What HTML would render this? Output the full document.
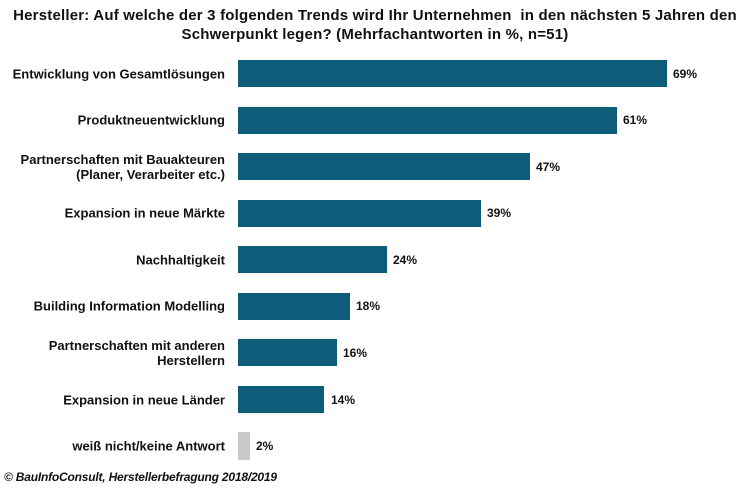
<!DOCTYPE html><html><head><style>
body{margin:0;width:750px;height:490px;background:#fff;position:relative;font-family:"Liberation Sans",Arial,sans-serif;overflow:hidden}
.t{position:absolute;left:0;width:750px;top:6px;text-align:center;font-weight:bold;font-size:15px;line-height:19px;color:#111;letter-spacing:0.2px}
.l{position:absolute;right:525px;text-align:right;font-weight:bold;font-size:13px;line-height:15px;color:#111;letter-spacing:0;transform:translateY(-50%);white-space:nowrap}
.b{position:absolute;left:238px;height:27px;background:#0d5c7a}
.v{position:absolute;font-weight:bold;font-size:12px;color:#111;transform:translateY(-50%);letter-spacing:0}
.f{position:absolute;left:4px;top:470px;font-style:italic;font-weight:bold;font-size:12px;color:#111;letter-spacing:-0.2px}
</style></head><body>
<div class="t">Hersteller: Auf welche der 3 folgenden Trends wird Ihr Unternehmen &nbsp;in den nächsten 5 Jahren den<br>Schwerpunkt legen? (Mehrfachantworten in %, n=51)</div>

<div class="l" style="top:73.5px">Entwicklung von Gesamtlösungen</div>
<div class="b" style="top:60px;width:429px"></div><div class="v" style="top:73.5px;left:673px">69%</div>

<div class="l" style="top:120px">Produktneuentwicklung</div>
<div class="b" style="top:106.5px;width:379px"></div><div class="v" style="top:120px;left:623px">61%</div>

<div class="l" style="top:166.5px">Partnerschaften mit Bauakteuren<br>(Planer, Verarbeiter etc.)</div>
<div class="b" style="top:153px;width:292px"></div><div class="v" style="top:166.5px;left:536px">47%</div>

<div class="l" style="top:213px">Expansion in neue Märkte</div>
<div class="b" style="top:199.5px;width:243px"></div><div class="v" style="top:213px;left:487px">39%</div>

<div class="l" style="top:259.5px">Nachhaltigkeit</div>
<div class="b" style="top:246px;width:149px"></div><div class="v" style="top:259.5px;left:393px">24%</div>

<div class="l" style="top:306px">Building Information Modelling</div>
<div class="b" style="top:292.5px;width:112px"></div><div class="v" style="top:306px;left:356px">18%</div>

<div class="l" style="top:352.5px">Partnerschaften mit anderen<br>Herstellern</div>
<div class="b" style="top:339px;width:99px"></div><div class="v" style="top:352.5px;left:343px">16%</div>

<div class="l" style="top:399.5px">Expansion in neue Länder</div>
<div class="b" style="top:386px;width:86px"></div><div class="v" style="top:399.5px;left:331px">14%</div>

<div class="l" style="top:446px">weiß nicht/keine Antwort</div>
<div class="b" style="top:432px;width:12px;height:28px;background:#c8c8c8"></div><div class="v" style="top:446px;left:256px">2%</div>

<div class="f">© BauInfoConsult, Herstellerbefragung 2018/2019</div>
</body></html>
